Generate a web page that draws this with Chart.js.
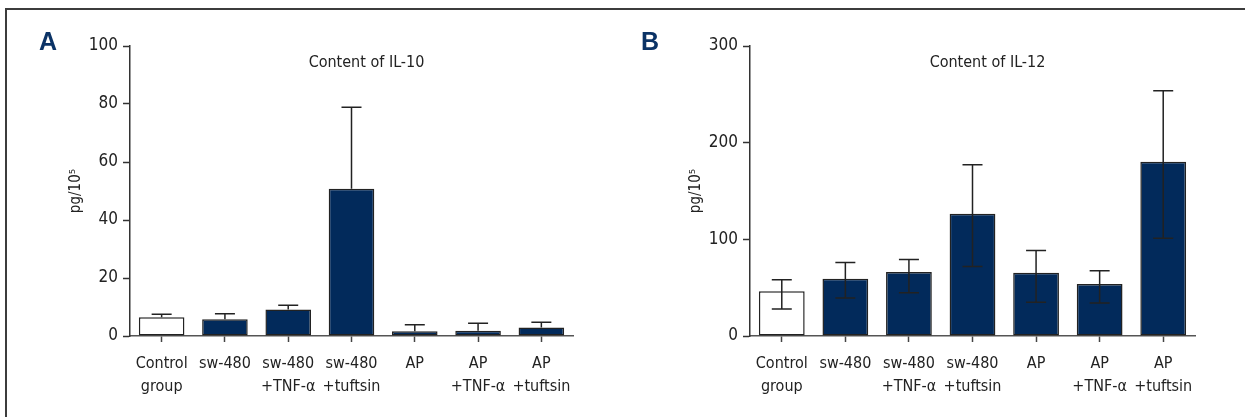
<!DOCTYPE html>
<html>
<head>
<meta charset="utf-8">
<title>Content of IL-10 and IL-12</title>
<script src="https://cdn.jsdelivr.net/npm/chart.js@4.4.1/dist/chart.umd.min.js"></script>
<style>
  html, body { margin: 0; padding: 0; background: #ffffff; }
  body { width: 1245px; height: 417px; position: relative; overflow: hidden; }
  .frame { position: absolute; left: 5px; top: 8px; width: 1400px; height: 600px;
           border-top: 2px solid #3c3c3c; border-left: 2px solid #3c3c3c; }
  .panel { position: absolute; top: 0; height: 417px; }
  #panelA { left: 0; width: 620px; }
  #panelB { left: 620px; width: 625px; }
  .letter { position: absolute; top: 27px; font: bold 25px 'Liberation Sans', Arial, sans-serif; color: #0b3366; }
</style>
</head>
<body>
<div class="frame"></div>
<div class="panel" id="panelA"><canvas id="il10" width="620" height="417"></canvas></div>
<div class="panel" id="panelB"><canvas id="il12" width="625" height="417"></canvas></div>
<div class="letter" style="left:39px">A</div>
<div class="letter" style="left:641px">B</div>
<script>
// Treatment groups (x-axis categories)
const groups = [['Control', 'group'], 'sw-480', ['sw-480', '+TNF-α'], ['sw-480', '+tuftsin'],
                'AP', ['AP', '+TNF-α'], ['AP', '+tuftsin']];

// IL-10 content, pg/10^5 cells: mean and upper end of the error bar
const il10Mean  = [6.5, 5.8, 9.1, 50.8, 1.6, 1.8, 2.9];
const il10Upper = [7.5, 7.7, 10.6, 78.9, 3.9, 4.4, 4.7];

// IL-12 content, pg/10^5 cells: mean with lower and upper error bar ends
const il12Mean  = [46.2, 59.3, 66.1, 126.4, 65.5, 53.7, 180.2];
const il12Lower = [27.9, 39.3, 44.8, 72.0, 34.8, 34.1, 101.2];
const il12Upper = [58.3, 76.1, 79.2, 177.1, 88.5, 67.6, 253.8];

// Y-axis tick values
const il10Ticks = [0, 20, 40, 60, 80, 100];
const il12Ticks = [0, 100, 200, 300];

const NAVY = '#022a5b';
const INK = '#222222';
const FONT = "'Liberation Sans Narrow', 'DejaVu Sans Condensed', 'Arial Narrow', sans-serif";

Chart.defaults.font.family = FONT;
Chart.defaults.color = INK;

// Draws error bars, the panel heading and the rotated y-axis title
const decorations = {
  id: 'decorations',
  afterDatasetsDraw(chart, args, opts) {
    const { ctx, chartArea, scales } = chart;
    const x = scales.x, y = scales.y;
    ctx.save();
    ctx.strokeStyle = INK;
    ctx.lineWidth = 1.5;
    const half = 10;
    opts.upper.forEach((hi, i) => {
      const px = x.getPixelForValue(i);
      const lo = opts.lower ? opts.lower[i] : chart.data.datasets[0].data[i];
      const yHi = y.getPixelForValue(hi);
      const yLo = y.getPixelForValue(lo);
      ctx.beginPath();
      ctx.moveTo(px, yLo); ctx.lineTo(px, yHi);
      ctx.moveTo(px - half, yHi); ctx.lineTo(px + half, yHi);
      if (opts.lower) { ctx.moveTo(px - half, yLo); ctx.lineTo(px + half, yLo); }
      ctx.stroke();
    });

    ctx.fillStyle = INK;
    ctx.font = '16px ' + FONT;
    ctx.textAlign = 'center';
    ctx.textBaseline = 'middle';
    ctx.fillText(opts.heading, (chartArea.left + chartArea.right) / 2 + 15, 63);

    ctx.translate(opts.titleX, (chartArea.top + chartArea.bottom) / 2);
    ctx.rotate(-Math.PI / 2);
    ctx.font = '15px ' + FONT;
    ctx.fillText('pg/10⁵', 0, 0);
    ctx.restore();
  }
};

function makePanel(canvasId, means, tickValues, heading, upper, lower, rightPad) {
  const yMax = tickValues[tickValues.length - 1];
  return new Chart(document.getElementById(canvasId), {
    type: 'bar',
    data: {
      labels: groups,
      datasets: [{
        data: means,
        backgroundColor: groups.map((g, i) => (i === 0 ? '#ffffff' : NAVY)),
        borderColor: INK,
        borderWidth: 1.5,
        borderSkipped: false,
        categoryPercentage: 1.0,
        barPercentage: 0.72
      }]
    },
    options: {
      responsive: false,
      animation: false,
      layout: { padding: { top: 46, left: 0, right: rightPad, bottom: 0 } },
      plugins: {
        legend: { display: false },
        tooltip: { enabled: false },
        decorations: { heading, upper, lower, titleX: 76 }
      },
      scales: {
        x: {
          grid: { display: true, drawOnChartArea: false, drawTicks: true, offset: false,
                  tickLength: 6, tickWidth: 1.5, tickColor: '#444' },
          border: { display: true, color: '#555', width: 1.5 },
          ticks: { font: { size: 16, lineHeight: 1.4 }, padding: 11, maxRotation: 0, autoSkip: false, color: INK },
          afterFit(scale) { scale.height = 81; }
        },
        y: {
          min: 0,
          max: yMax,
          afterBuildTicks(scale) { scale.ticks = tickValues.map(v => ({ value: v })); },
          grid: { display: true, drawOnChartArea: false, drawTicks: true,
                  tickLength: 7, tickWidth: 1.5, tickColor: '#333' },
          border: { display: true, color: '#333', width: 1.5 },
          ticks: { font: { size: 17 }, padding: 5, color: INK },
          afterFit(scale) { scale.width = 130; }
        }
      }
    },
    plugins: [decorations]
  });
}

makePanel('il10', il10Mean, il10Ticks, 'Content of IL-10', il10Upper, null, 47);
makePanel('il12', il12Mean, il12Ticks, 'Content of IL-12', il12Upper, il12Lower, 50);
</script>
</body>
</html>
